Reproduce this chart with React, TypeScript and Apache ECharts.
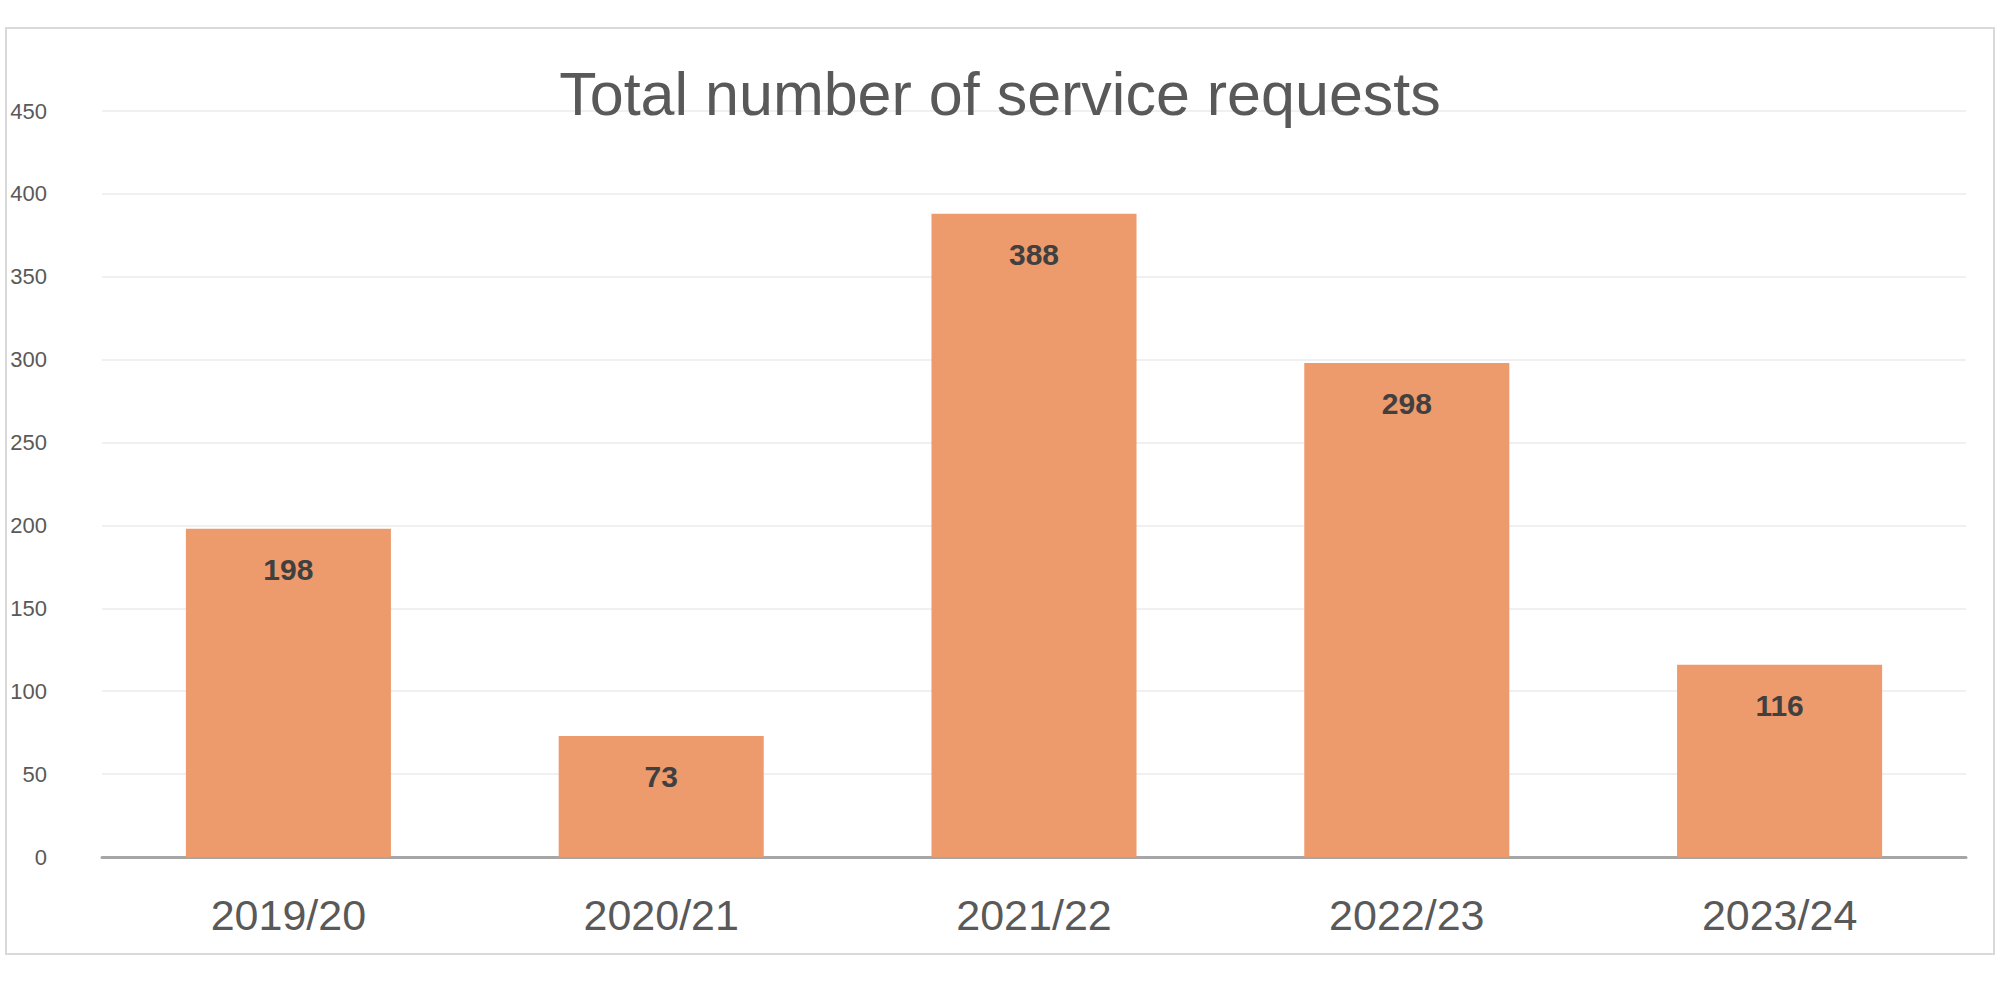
import React, { useEffect, useRef } from "react";
import * as echarts from "echarts";

const categories = ["2019/20", "2020/21", "2021/22", "2022/23", "2023/24"];
const requests = [198, 73, 388, 298, 116];
const titleText = "Total number of service requests";

export default function App() {
  const ref = useRef<HTMLDivElement>(null);
  useEffect(() => {
    if (!ref.current) return;
    const chart = echarts.init(ref.current, undefined, { renderer: "svg" });
    chart.setOption({
      animation: false,
      backgroundColor: "#ffffff",
      title: {
        text: titleText,
        left: "center",
        top: 58,
        textStyle: {
          fontFamily: "Liberation Sans, Arial, sans-serif",
          fontSize: 61,
          fontWeight: "normal",
          color: "#595959",
        },
      },
      graphic: [
        {
          type: "rect",
          shape: { x: 6, y: 28, width: 1988, height: 926 },
          style: { fill: "none", stroke: "#d9d9d9", lineWidth: 2 },
          z: -1,
        },
      ],
      grid: { left: 102, right: 34, top: 111, bottom: 126 },
      xAxis: {
        type: "category",
        data: categories,
        axisLine: { lineStyle: { color: "#a6a6a6", width: 3 } },
        axisTick: { show: false },
        axisLabel: {
          margin: 36,
          fontFamily: "Liberation Sans, Arial, sans-serif",
          fontSize: 43,
          color: "#595959",
        },
      },
      yAxis: {
        type: "value",
        min: 0,
        max: 450,
        interval: 50,
        axisLine: { show: false },
        axisTick: { show: false },
        splitLine: { lineStyle: { color: "#f0f0f0", width: 2 } },
        axisLabel: {
          margin: 55,
          fontFamily: "Liberation Sans, Arial, sans-serif",
          fontSize: 22,
          color: "#595959",
        },
      },
      series: [
        {
          type: "bar",
          data: requests,
          barWidth: "55%",
          itemStyle: { color: "#ED9A6C" },
          label: {
            show: true,
            position: "insideTop",
            distance: 26,
            fontFamily: "Liberation Sans, Arial, sans-serif",
            fontSize: 30,
            fontWeight: "bold",
            color: "#404040",
          },
        },
      ],
    });
    return () => chart.dispose();
  }, []);
  return (
    <div
      ref={ref}
      style={{ position: "absolute", left: 0, top: 0, width: 2000, height: 983 }}
    />
  );
}
